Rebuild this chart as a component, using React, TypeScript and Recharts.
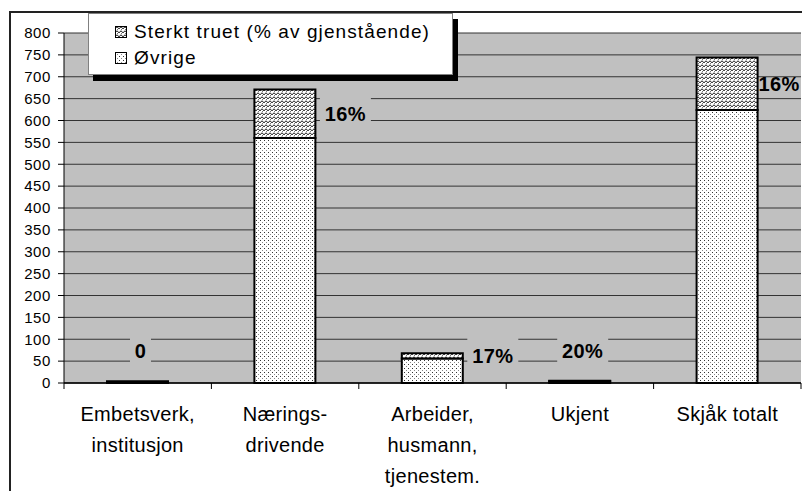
import { BarChart, Bar, XAxis, YAxis, CartesianGrid, LabelList, Legend } from "recharts";

const CATEGORIES = ["Embetsverk,\ninstitusjon", "Nærings-\ndrivende", "Arbeider,\nhusmann,\ntjenestem.", "Ukjent", "Skjåk totalt"];
const OVRIGE = [4, 560, 56, 4, 624];
const STERKT_TRUET = [0, 111, 12, 1, 120];
const PCT_LABELS = ["0", "16%", "17%", "20%", "16%"];
const Y_TICKS = [0, 50, 100, 150, 200, 250, 300, 350, 400, 450, 500, 550, 600, 650, 700, 750, 800];

const W = 802;
const H = 491;
const FONT = "'Liberation Sans', Arial, sans-serif";
const Y_AXIS_W = 64;
const PLOT_RIGHT = W - 1;

const data = CATEGORIES.map((name, i) => ({
  name,
  ovrige: OVRIGE[i],
  truet: STERKT_TRUET[i],
}));

// legend entries, top one first (like Excel shows it)
const LEGEND = [
  { name: "Sterkt truet (% av gjenstående)", fill: "url(#patWave)" },
  { name: "Øvrige", fill: "url(#patDots)" },
];

function CatTick(props: any) {
  const { x, y, payload, index } = props;
  const lines = String(payload.value).split("\n");
  const half = payload.offset ?? (PLOT_RIGHT - Y_AXIS_W) / CATEGORIES.length / 2;
  const axisY = y - 6;
  return (
    <g>
      <line x1={x - half} x2={x - half} y1={axisY} y2={axisY + 6} stroke="#000" />
      {index === CATEGORIES.length - 1 && (
        <line x1={x + half} x2={x + half} y1={axisY} y2={axisY + 6} stroke="#000" />
      )}
      {lines.map((l, i) => (
        <text
          key={i}
          x={x}
          y={axisY + 38 + i * 31}
          textAnchor="middle"
          fontSize={20}
          letterSpacing={0.3}
          fontFamily={FONT}
          fill="#000"
        >
          {l}
        </text>
      ))}
    </g>
  );
}

// label attached to the bottom segment; the top segment is worked out from its ratio
function PctLabel(props: any) {
  const { x, y, width, height, value } = props;
  const i = CATEGORIES.indexOf(String(value));
  if (i < 0) return null;
  const bx = Number(x), by = Number(y), bw = Number(width), bh = Number(height) || 0;
  const topH = OVRIGE[i] ? (bh * STERKT_TRUET[i]) / OVRIGE[i] : 0;
  const total = OVRIGE[i] + STERKT_TRUET[i];
  let cx: number, cy: number;
  if (total < 20) {
    // tiny bars: label sits above the bar
    cx = bx + bw / 2 + 3;
    cy = by - topH - 30;
  } else {
    cx = Math.min(bx + bw + 30, PLOT_RIGHT - 22);
    cy = by - topH / 2;
  }
  const s = PCT_LABELS[i];
  const boxW = 10 + s.replace("%", "").length * 11 + (s.includes("%") ? 19 : 0);
  const showBox = cx + boxW / 2 <= PLOT_RIGHT;
  return (
    <g>
      {showBox && <rect x={cx - boxW / 2} y={cy - 26} width={boxW} height={52} fill="#c0c0c0" />}
      <text
        x={cx}
        y={cy + 7}
        textAnchor="middle"
        fontSize={20}
        fontWeight="bold"
        letterSpacing={0.4}
        fontFamily={FONT}
        fill="#000"
      >
        {s}
      </text>
    </g>
  );
}

function LegendBox() {
  return (
    <div
      style={{
        width: 365,
        height: 62,
        background: "#fff",
        border: "1px solid #808080",
        boxShadow: "5px 6px 0 #000",
        fontFamily: FONT,
        fontSize: 19,
        letterSpacing: 1.1,
        color: "#000",
        boxSizing: "border-box",
        paddingTop: 5,
      }}
    >
      {LEGEND.map((e) => (
        <div key={e.name} style={{ display: "flex", alignItems: "center", height: 26, paddingLeft: 26 }}>
          <svg width={12} height={12} style={{ marginRight: 7 }}>
            <rect x={0.5} y={0.5} width={11} height={11} fill={e.fill} stroke="#000" />
          </svg>
          <span>{e.name}</span>
        </div>
      ))}
    </div>
  );
}

export default function App() {
  return (
    <div style={{ position: "absolute", left: 0, top: 0, width: W, height: H, overflow: "hidden", background: "#fff" }}>
      <div
        style={{
          position: "absolute",
          left: 9,
          top: 11,
          width: 900,
          height: 600,
          border: "2px solid #222",
        }}
      />
      <div style={{ position: "absolute", left: 0, top: 0 }}>
        <BarChart width={W} height={H} data={data} margin={{ top: 33, right: 1, bottom: 0, left: 0 }}>
          <defs>
            <pattern id="patDots" width="4" height="4" patternUnits="userSpaceOnUse">
              <rect width="4" height="4" fill="#fff" />
              <rect x="0" y="0" width="1" height="1" fill="#333" />
              <rect x="2" y="2" width="1" height="1" fill="#888" />
            </pattern>
            <pattern id="patWave" width="4" height="4" patternUnits="userSpaceOnUse">
              <rect width="4" height="4" fill="#fff" />
              <path d="M0 3 L1 1.5 L2 1 L3 1.5 L4 3" stroke="#222" strokeWidth="1" fill="none" />
              <rect x="2" y="3" width="1" height="1" fill="#777" />
            </pattern>
          </defs>
          <CartesianGrid vertical={false} fill="#c0c0c0" stroke="#333" strokeOpacity={1} />
          <XAxis
            dataKey="name"
            height={108}
            tickLine={false}
            tickSize={6}
            tickMargin={0}
            axisLine={{ stroke: "#000", strokeWidth: 1.5 }}
            tick={<CatTick />}
            interval={0}
          />
          <YAxis
            width={Y_AXIS_W}
            domain={[0, 800]}
            ticks={Y_TICKS}
            interval={0}
            tickSize={6}
            tickMargin={7}
            axisLine={{ stroke: "#000" }}
            tickLine={{ stroke: "#000" }}
            tick={{ fontSize: 15, fill: "#000", fontFamily: FONT, letterSpacing: 0.6 }}
          />
          <Bar dataKey="ovrige" name="Øvrige" stackId="a" fill="url(#patDots)" stroke="#000" strokeWidth={2} barSize={61} isAnimationActive={false}>
            <LabelList dataKey="name" content={<PctLabel />} />
          </Bar>
          <Bar dataKey="truet" name="Sterkt truet (% av gjenstående)" stackId="a" fill="url(#patWave)" stroke="#000" strokeWidth={2} barSize={61} isAnimationActive={false} />
          <Legend
            layout="vertical"
            align="center"
            verticalAlign="middle"
            content={<LegendBox />}
            wrapperStyle={{ position: "absolute", left: 88, top: 13, width: 370, height: 70 }}
          />
        </BarChart>
      </div>
    </div>
  );
}
